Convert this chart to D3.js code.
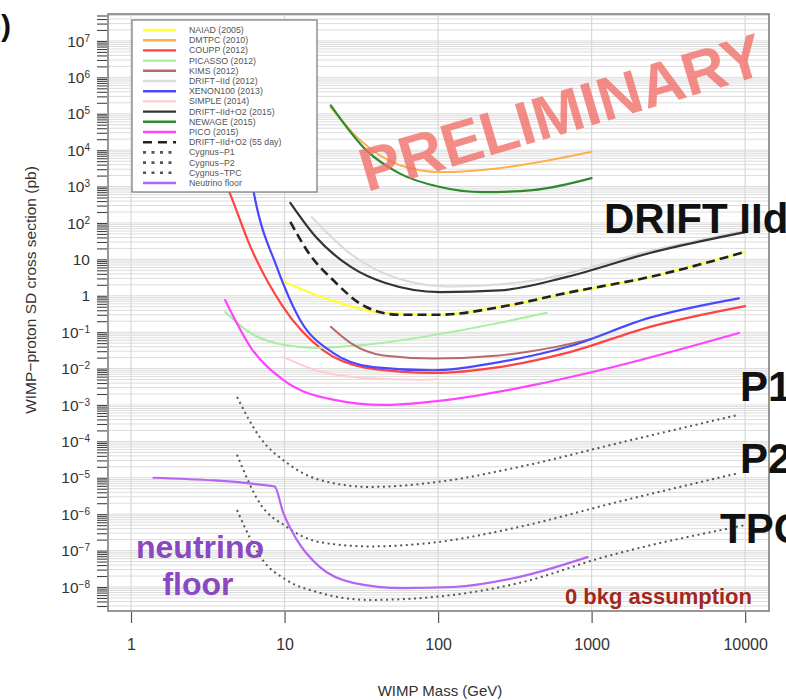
<!DOCTYPE html>
<html><head><meta charset="utf-8">
<script src="https://cdn.jsdelivr.net/npm/d3@7"></script>
<style>
body{margin:0;background:#fff;}
svg{display:block;font-family:"Liberation Sans",Arial,Helvetica,sans-serif;}
</style>
</head><body>
<svg id="chart" width="786" height="700"></svg>
<script>
// ---------------- DATA ----------------
const massTicks = [1, 10, 100, 1000, 10000];
const massTickLabels = ["1", "10", "100", "1000", "10000"];
const sigmaDecades = [7, 6, 5, 4, 3, 2, 1, 0, -1, -2, -3, -4, -5, -6, -7, -8];

const legendLabels = [
  "NAIAD (2005)", "DMTPC (2010)", "COUPP (2012)", "PICASSO (2012)", "KIMS (2012)",
  "DRIFT\u2212IId (2012)", "XENON100 (2013)", "SIMPLE (2014)", "DRIFT\u2212IId+O2 (2015)",
  "NEWAGE (2015)", "PICO (2015)", "DRIFT\u2212IId+O2 (55 day)", "Cygnus\u2212P1",
  "Cygnus\u2212P2", "Cygnus\u2212TPC", "Neutrino floor"
];

// [mass GeV, cross section pb]
const naiad = [[10,2.4],[20,0.76],[44,0.34],[100,0.3],[250,0.49],[700,1.2],[2400,3.3],[10000,16]];
const dmtpc = [[20,1.5e5],[31,1.9e4],[56,3900],[103,2500],[250,3200],[1000,9000]];
const coupp = [[3.6,5000],[4.4,660],[6,22],[9.8,0.49],[17.8,0.032],[34,0.0105],[93,0.0076],[250,0.011],[690,0.027],[2400,0.14],[10000,0.52]];
const picasso = [[4.1,0.36],[6,0.095],[9.8,0.045],[16,0.037],[34,0.045],[93,0.083],[250,0.18],[510,0.34]];
const kims = [[20,0.14],[27,0.05],[44,0.023],[93,0.019],[250,0.023],[540,0.037],[1000,0.065]];
const drift2012 = [[15,146],[27,14],[56,2.9],[119,1.8],[415,2.6],[2400,17],[10000,62]];
const xenon100 = [[5.8,5000],[6.4,490],[8.9,6.2],[12.6,0.22],[20.7,0.027],[37.6,0.011],[93,0.009],[250,0.015],[690,0.039],[2400,0.25],[9100,0.85]];
const simple = [[9.8,0.021],[16,0.009],[34,0.0055],[73,0.0049],[100,0.0052]];
const drift2015 = [[10.9,355],[16,41],[27,6.2],[46,2.2],[103,1.26],[252,1.4],[690,3.3],[2400,15],[10000,56]];
const newage = [[20,1.7e5],[34,1e4],[56,2300],[103,970],[195,700],[415,800],[1000,1700]];
const pico = [[4.1,0.76],[6,0.039],[9.8,0.0049],[20.7,0.0014],[44,0.001],[119,0.0014],[415,0.0035],[1130,0.009],[9100,0.095]];
const drift55 = [[10.9,107],[14.7,13],[20.7,2.7],[34,0.49],[56,0.3],[102,0.3],[253,0.49],[690,1.2],[2400,3.3],[10000,16]];
const cygnusP1 = [[4.9,0.00166],[6.9,1.3e-4],[10.3,2.6e-5],[17,8.7e-6],[36,5.6e-6],[98,7.6e-6],[340,2e-5],[1500,9e-5],[9100,5.4e-4]];
const cygnusP2 = [[4.9,4.3e-5],[6.9,2e-6],[10.3,4.5e-7],[17,1.7e-7],[36,1.3e-7],[98,1.7e-7],[340,4.5e-7],[1500,2.2e-6],[9100,1.35e-5]];
const cygnusTPC = [[4.9,1.3e-6],[7.2,5.5e-8],[10.3,1.55e-8],[17,6.9e-9],[36,4.4e-9],[98,5.4e-9],[340,1.3e-8],[1200,6.6e-8],[10000,5e-7]];
const neutrinoFloor = [[1.4,1e-5],[8.6,5.8e-6],[9.8,1.1e-6],[12,2e-7],[17,3.5e-8],[28,1.3e-8],[59,9.3e-9],[125,1e-8],[340,1.9e-8],[940,6.6e-8]];

const seriesData = [naiad, dmtpc, coupp, picasso, kims, drift2012, xenon100, simple,
  drift2015, newage, pico, drift55, cygnusP1, cygnusP2, cygnusTPC, neutrinoFloor];

// ---------------- STYLES ----------------
const styles = [
  {c:"#ffff3c", w:2.2}, {c:"#ffb04a", w:2}, {c:"#ff4242", w:2.2}, {c:"#a6eea0", w:2},
  {c:"#b86a6a", w:2}, {c:"#dadada", w:2}, {c:"#4848ff", w:2.2}, {c:"#ffcdd0", w:2},
  {c:"#333333", w:2.2}, {c:"#2f8a2f", w:2.2}, {c:"#ff44ff", w:2.2}, {c:"#222222", w:2.6, dash:"9,5"},
  {c:"#555555", w:2, dash:"2,3.6"}, {c:"#555555", w:2, dash:"2,3.6"}, {c:"#555555", w:2, dash:"2,3.6"},
  {c:"#b466f2", w:2.2}
];

// ---------------- CHART ----------------
const svg = d3.select("#chart");
const L = 108, R = 769, T = 14, B = 611;
const x = d3.scaleLog().domain([0.708, 14300]).range([L, R]);
const y = d3.scaleLog().domain([Math.pow(10, -8.66), Math.pow(10, 7.74)]).range([B, T]);

// minor tick values
const minorVals = [];
for (let k = -9; k <= 7; k++) for (let m = 1; m <= 9; m++) {
  const v = m * Math.pow(10, k);
  if (v >= y.domain()[0] && v <= y.domain()[1]) minorVals.push(v);
}

// horizontal grid
svg.append("g").selectAll("line").data(minorVals).join("line")
  .attr("x1", L).attr("x2", R).attr("y1", d => y(d)).attr("y2", d => y(d))
  .attr("stroke", "#dcdcdc").attr("stroke-width", 1);
// vertical grid
svg.append("g").selectAll("line").data(massTicks).join("line")
  .attr("x1", d => x(d)).attr("x2", d => x(d)).attr("y1", T).attr("y2", B)
  .attr("stroke", "#d8d8d8").attr("stroke-width", 1.2);

// y axis minor ticks
const yAxis = d3.axisLeft(y).tickValues(minorVals).tickSize(10).tickFormat("");
const gy = svg.append("g").attr("transform", `translate(${L - 1},0)`).call(yAxis);
gy.select(".domain").remove();
gy.selectAll("line").attr("stroke", "#444").attr("stroke-width", 1.1);

// y tick labels
const yl = svg.append("g").attr("font-size", 15.5).attr("fill", "#333");
sigmaDecades.forEach(k => {
  const t = yl.append("text").attr("x", 90).attr("y", y(Math.pow(10, k))).attr("dy", "0.36em")
    .attr("text-anchor", "end");
  if (k === 1) t.text("10");
  else if (k === 0) t.text("1");
  else {
    t.append("tspan").text("10");
    t.append("tspan").attr("dy", "-0.5em").attr("font-size", 10).text(String(k).replace("-", "\u2212"));
  }
});

// x axis
const xAxis = d3.axisBottom(x).tickValues(massTicks).tickSize(11).tickFormat((d, i) => massTickLabels[i]);
const gx = svg.append("g").attr("transform", `translate(0,${B + 1})`).call(xAxis);
gx.select(".domain").remove();
gx.selectAll("line").attr("stroke", "#555").attr("stroke-width", 1.2);
gx.selectAll("text").attr("font-size", 16).attr("fill", "#333").attr("y", 27)
  .attr("font-family", "Liberation Sans, Arial, sans-serif");

// clip
svg.append("defs").append("clipPath").attr("id", "clip")
  .append("rect").attr("x", L).attr("y", T).attr("width", R - L).attr("height", B - T);

const line = d3.line().x(d => x(d[0])).y(d => y(d[1])).curve(d3.curveMonotoneX);
const gc = svg.append("g").attr("clip-path", "url(#clip)");
seriesData.forEach((s, i) => {
  gc.append("path").datum(s).attr("d", line).attr("fill", "none")
    .attr("stroke", styles[i].c).attr("stroke-width", styles[i].w)
    .attr("stroke-dasharray", styles[i].dash || null)
    .attr("stroke-linecap", styles[i].dash ? "butt" : "round");
});

// plot frame
svg.append("rect").attr("x", L).attr("y", T).attr("width", R - L).attr("height", B - T)
  .attr("fill", "none").attr("stroke", "#777").attr("stroke-width", 1.5);

// legend
const lg = svg.append("g");
lg.append("rect").attr("x", 132).attr("y", 20).attr("width", 185).attr("height", 172)
  .attr("fill", "#fff").attr("stroke", "#777").attr("stroke-width", 1.2);
legendLabels.forEach((lab, i) => {
  const yy = 30 + i * 10.2;
  const st = styles[i];
  lg.append("line").attr("x1", 143).attr("x2", 176).attr("y1", yy).attr("y2", yy)
    .attr("stroke", st.c).attr("stroke-width", st.dash ? 2.6 : 2.4)
    .attr("stroke-dasharray", st.dash ? (st.dash === "9,5" ? "9,6" : "3,5.5") : null);
  lg.append("text").attr("x", 189).attr("y", yy).attr("dy", "0.35em")
    .attr("font-size", 8.8).attr("fill", "#555").text(lab);
});

// PRELIMINARY watermark
svg.append("text").attr("transform", "translate(367,192) rotate(-16.5)")
  .attr("font-size", 61).attr("font-weight", "bold").attr("fill", "#f2716a").attr("opacity", 0.8)
  .text("PRELIMINARY");

// big labels
const big = [["DRIFT IId", 604, 233], ["P1", 740, 401], ["P2", 740, 473], ["TPC", 720, 543]];
big.forEach(b => svg.append("text").attr("x", b[1]).attr("y", b[2]).attr("font-size", 42)
  .attr("font-weight", "bold").attr("fill", "#111").text(b[0]));

svg.append("text").attr("x", 200).attr("y", 558).attr("text-anchor", "middle")
  .attr("font-size", 32).attr("font-weight", "bold").attr("fill", "#8a48c2").text("neutrino");
svg.append("text").attr("x", 198).attr("y", 595).attr("text-anchor", "middle")
  .attr("font-size", 32).attr("font-weight", "bold").attr("fill", "#8a48c2").text("floor");

svg.append("text").attr("x", 752).attr("y", 604).attr("text-anchor", "end")
  .attr("font-size", 22).attr("font-weight", "bold").attr("fill", "#a3271c").text("0 bkg assumption");

// axis titles
svg.append("text").attr("x", 440).attr("y", 696).attr("text-anchor", "middle")
  .attr("font-size", 15).attr("fill", "#333").text("WIMP Mass (GeV)");
svg.append("text").attr("transform", "translate(36,290) rotate(-90)").attr("text-anchor", "middle")
  .attr("font-size", 15.5).attr("fill", "#333").text("WIMP\u2212proton SD cross section (pb)");

// panel label (clipped at left edge)
svg.append("text").attr("x", 11).attr("y", 36).attr("text-anchor", "end")
  .attr("font-size", 30).attr("font-weight", "bold").attr("fill", "#111").text("b)");
</script>
</body></html>
